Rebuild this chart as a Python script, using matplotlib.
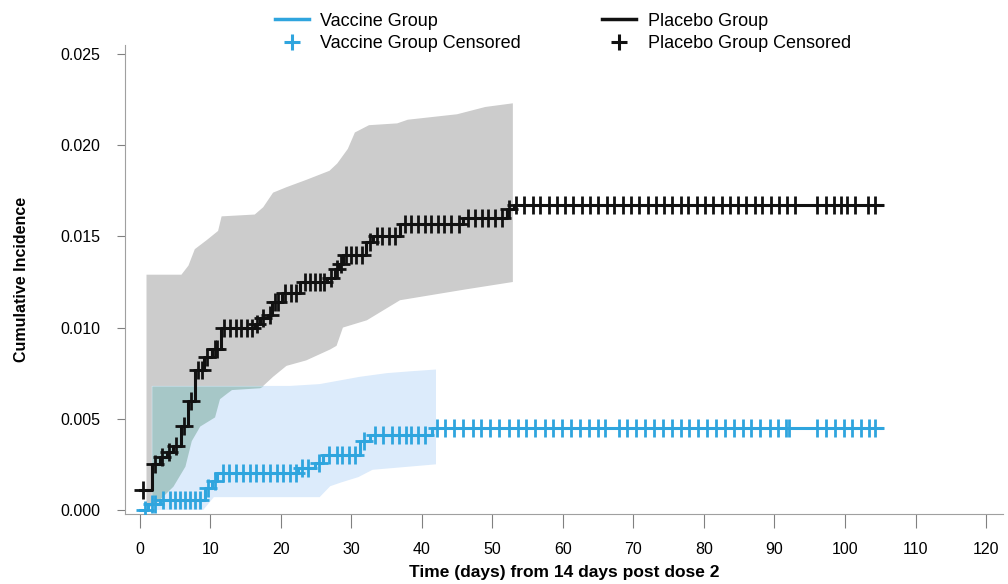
import numpy as np
import matplotlib
matplotlib.use('Agg')
from matplotlib import pyplot as plt
from matplotlib.lines import Line2D

plt.rcParams['font.family'] = ['Liberation Sans', 'DejaVu Sans']

# ---------------- data ----------------
end_time = 105.3

# Kaplan-Meier style step curves (time in days, cumulative incidence)
vaccine_event_t = [0.0, 1.2, 2.8, 9.2, 10.2, 11.0, 22.5, 24.8, 26.0, 31.2, 32.6, 41.4]
vaccine_event_y = [0.0, 0.0003, 0.00055, 0.0012, 0.0016, 0.0020, 0.0023, 0.0026,
                   0.0030, 0.0038, 0.0041, 0.0045]

placebo_event_t = [0.0, 1.8, 2.8, 3.8, 4.7, 5.8, 6.9, 7.8, 9.1, 10.2, 11.5, 16.3,
                   17.0, 18.2, 18.7, 20.1, 22.7, 26.5, 27.7, 28.3, 28.8, 32.1,
                   33.1, 36.9, 45.9, 52.0, 53.0]
placebo_event_y = [0.0011, 0.0025, 0.0029, 0.0032, 0.0035, 0.0046, 0.0060, 0.0077,
                   0.0084, 0.0088, 0.0100, 0.0102, 0.0105, 0.0107, 0.0114, 0.0119,
                   0.0125, 0.0127, 0.0132, 0.0135, 0.0140, 0.0147, 0.0150, 0.0157,
                   0.0160, 0.0165, 0.0167]

# censoring times
vaccine_censor_t = [0.7, 1.7, 2.2, 3.3, 4.3, 5.0, 5.7, 6.4, 7.1, 7.8, 8.5, 9.7, 10.6,
                    11.8, 12.7, 13.7, 14.6, 15.6, 16.5, 17.5, 18.4, 19.4, 20.3, 21.3,
                    22.2, 23.0, 23.9, 25.4, 26.9, 27.9, 28.7, 29.6, 30.5, 31.8, 33.3,
                    34.5, 35.7, 36.7, 37.7, 38.5, 39.4, 40.4, 42.1, 43.3, 44.6, 45.9,
                    47.2, 48.4, 49.7, 51.0, 52.3, 53.6, 54.8, 56.1, 57.4, 58.6, 59.9,
                    61.2, 62.4, 63.7, 65.0, 66.0, 67.9, 69.1, 70.4, 71.7, 72.9, 74.2,
                    75.4, 76.7, 77.9, 79.2, 80.5, 81.7, 83.0, 84.2, 85.5, 86.7, 88.0,
                    89.3, 90.5, 91.6, 92.1, 96.1, 97.3, 98.6, 99.8, 101.0, 102.2,
                    103.4, 104.3]
placebo_censor_t = [0.4, 2.2, 3.2, 4.2, 5.2, 6.3, 7.2, 8.3, 8.8, 9.6, 10.6, 11.0,
                    12.0, 12.8, 13.6, 14.4, 15.2, 15.9, 16.6, 17.5, 18.45, 19.2,
                    19.6, 20.6, 21.4, 22.2, 23.4, 24.1, 24.8, 25.5, 26.1, 27.1,
                    27.9, 28.5, 29.2, 29.9, 30.7, 31.5, 32.6, 33.6, 34.4, 35.3,
                    36.2, 37.6, 38.5, 39.5, 40.4, 41.3, 42.3, 43.2, 44.1, 45.2,
                    46.6, 47.5, 48.5, 49.4, 50.4, 51.3, 52.4, 53.3, 54.5, 55.7,
                    56.8, 58.0, 59.2, 60.3, 61.5, 62.7, 63.8, 65.0, 66.2, 67.3,
                    68.5, 69.7, 70.8, 72.0, 73.2, 74.3, 75.5, 76.7, 77.8, 79.0,
                    80.2, 81.3, 82.5, 83.7, 84.8, 86.0, 87.2, 88.3, 89.5, 90.7,
                    91.8, 92.9, 96.1, 97.3, 98.4, 99.4, 100.3, 101.4, 103.3, 104.3]

# confidence bands
placebo_hi_t = [0.95, 5.9, 6.9, 7.8, 9.5, 11.1, 11.6, 16.3, 17.5, 18.9, 20.8, 23.6,
                26.9, 28.0, 29.5, 30.5, 32.5, 36.5, 38.0, 45.0, 49.0, 52.9]
placebo_hi = [0.0129, 0.0129, 0.0134, 0.0143, 0.0148, 0.0153, 0.0161, 0.0162,
              0.0166, 0.0174, 0.0177, 0.0181, 0.0186, 0.0190, 0.0198, 0.0207,
              0.0211, 0.0212, 0.0214, 0.0217, 0.0221, 0.0223]
placebo_lo_t = [0.95, 2.3, 4.7, 6.4, 7.3, 8.5, 10.6, 11.3, 12.3, 13.0, 17.0, 17.5,
                18.9, 20.8, 23.6, 27.0, 27.9, 28.8, 32.2, 36.9, 41.6, 46.3, 52.9]
placebo_lo = [0.0, 0.0004, 0.0013, 0.0024, 0.0038, 0.0046, 0.0051, 0.0061, 0.0064,
              0.0066, 0.0067, 0.0068, 0.0073, 0.0079, 0.0082, 0.0088, 0.0090,
              0.0100, 0.0104, 0.0115, 0.0118, 0.0121, 0.0125]

vaccine_hi_t = [1.7, 21.3, 25.5, 31.2, 35.0, 38.3, 42.0]
vaccine_hi = [0.0068, 0.0068, 0.0069, 0.0073, 0.0075, 0.0076, 0.0077]
vaccine_lo_t = [1.7, 9.0, 10.5, 25.5, 27.0, 28.5, 31.0, 33.0, 42.0]
vaccine_lo = [0.0, 0.0, 0.0007, 0.0007, 0.0013, 0.0015, 0.0018, 0.0022, 0.0025]

blue = '#2fa5de'
black = '#111111'


def step_value(ev_t, ev_y, t):
    idx = np.searchsorted(ev_t, t, side='right') - 1
    return np.asarray(ev_y)[idx]


fig = plt.figure(figsize=(10.08, 5.84), dpi=100)
ax = fig.add_axes([0.124, 0.12, 0.871, 0.803])

# bands
ax.fill(np.concatenate([placebo_hi_t, placebo_lo_t[::-1]]),
        np.concatenate([placebo_hi, placebo_lo[::-1]]),
        color='#cccccc', lw=0, zorder=1)
ax.fill(np.concatenate([vaccine_hi_t, vaccine_lo_t[::-1]]),
        np.concatenate([vaccine_hi, vaccine_lo[::-1]]),
        color='#dcebfb', lw=0, zorder=1)
# overlap of the two bands (placebo lower bound up to the flat vaccine upper bound)
p_lo_t = np.array(placebo_lo_t)
p_lo = np.array(placebo_lo)
sel = (p_lo_t > vaccine_hi_t[0]) & (p_lo <= vaccine_hi[0])
ov_t = np.concatenate([[vaccine_hi_t[0]], p_lo_t[sel]])
ov_lo = np.concatenate([[np.interp(vaccine_hi_t[0], p_lo_t, p_lo)], p_lo[sel]])
ax.fill_between(ov_t, ov_lo, vaccine_hi[0], color='#a6c7c7', lw=0, zorder=2)

# step curves
vt = vaccine_event_t + [end_time]
vy = vaccine_event_y + [vaccine_event_y[-1]]
pt = placebo_event_t + [end_time]
py = placebo_event_y + [placebo_event_y[-1]]
ax.step(vt, vy, where='post', color=blue, lw=2.2, zorder=3)
ax.step(pt, py, where='post', color=black, lw=2.2, zorder=4)

# censor marks
ax.plot(vaccine_censor_t, step_value(vaccine_event_t, vaccine_event_y, vaccine_censor_t),
        ls='none', marker='+', ms=13, mew=2.0, color=blue, zorder=3)
ax.plot(placebo_censor_t, step_value(placebo_event_t, placebo_event_y, placebo_censor_t),
        ls='none', marker='+', ms=13, mew=2.0, color=black, zorder=4)

ax.set_xlim(-2.1, 122.4)
ax.set_ylim(-0.00022, 0.0255)
ax.set_xticks(np.arange(0, 121, 10))
ax.set_yticks([0.0, 0.005, 0.010, 0.015, 0.020, 0.025])
ax.set_yticklabels(['0.000', '0.005', '0.010', '0.015', '0.020', '0.025'])
for s in ['top', 'right']:
    ax.spines[s].set_visible(False)
for s in ['left', 'bottom']:
    ax.spines[s].set_color('#a0a0a0')
ax.tick_params(axis='x', length=10, color='#808080', labelsize=11.5, pad=10)
ax.tick_params(axis='y', length=6, color='#808080', labelsize=11.5, pad=12)
ax.set_xlabel('Time (days) from 14 days post dose 2', fontsize=12.5,
              fontweight='bold', labelpad=6)
ax.set_ylabel('Cumulative Incidence', fontsize=11.5, fontweight='bold', labelpad=22)

handles = [Line2D([], [], color=blue, lw=2.5),
           Line2D([], [], color=blue, ls='none', marker='+', ms=12, mew=2.2),
           Line2D([], [], color=black, lw=2.5),
           Line2D([], [], color=black, ls='none', marker='+', ms=12, mew=2.2)]
labels = ['Vaccine Group', 'Vaccine Group Censored',
          'Placebo Group', 'Placebo Group Censored']
fig.legend(handles, labels, loc='upper left', bbox_to_anchor=(0.257, 1.006), ncol=2,
           frameon=False, fontsize=13, handlelength=1.85, handletextpad=0.65,
           columnspacing=4.5, labelspacing=0.3)

fig.savefig('out.png', dpi=100)
